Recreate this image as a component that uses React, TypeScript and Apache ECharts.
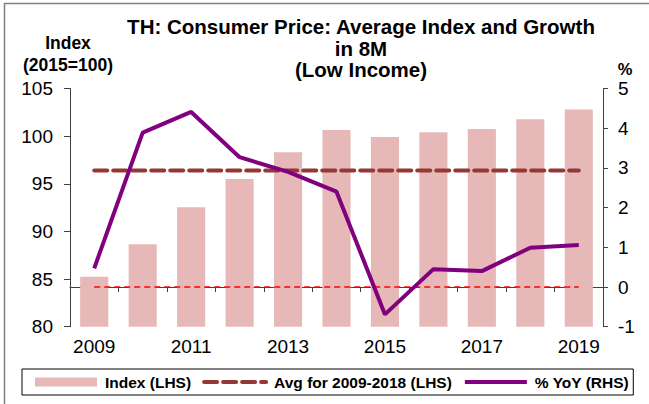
import React, { useEffect, useRef } from "react";
import * as echarts from "echarts";

const years = ["2009", "2010", "2011", "2012", "2013", "2014", "2015", "2016", "2017", "2018", "2019"];
const indexValues = [85.25, 88.65, 92.53, 95.5, 98.3, 100.64, 99.9, 100.4, 100.74, 101.76, 102.8];
const yoyValues = [0.47, 3.89, 4.41, 3.27, 2.9, 2.4, -0.69, 0.45, 0.4, 0.99, 1.06];
const avgValue = 96.4;
const zeroValue = 0;
const leftTicks = { min: 80, max: 105, interval: 5 };
const rightTicks = { min: -1, max: 5, interval: 1 };

export default function App() {
  const ref = useRef<HTMLDivElement>(null);
  useEffect(() => {
    if (!ref.current) return;
    const chart = echarts.init(ref.current, null, { renderer: "svg" });
    const font = "Arial, 'Liberation Sans', sans-serif";
    const axisColor = "#404040";
    const hidden = { color: "rgba(0,0,0,0)", borderColor: "rgba(0,0,0,0)", borderWidth: 0 };
    chart.setOption({
      animation: false,
      backgroundColor: "#ffffff",
      textStyle: { fontFamily: font },
      title: [
        {
          text: "TH: Consumer Price: Average Index and Growth\nin 8M\n(Low Income)",
          left: 356,
          top: 11,
          textAlign: "center",
          textStyle: { fontSize: 20.5, fontWeight: "bold", color: "#000", lineHeight: 21.5, fontFamily: font },
        },
        {
          text: "Index\n(2015=100)",
          left: 63,
          top: 27,
          textAlign: "center",
          textStyle: { fontSize: 17.5, fontWeight: "bold", color: "#000", lineHeight: 22, fontFamily: font },
        },
        {
          text: "%",
          left: 620,
          top: 58,
          textAlign: "center",
          textStyle: { fontSize: 16.5, fontWeight: "bold", color: "#000", lineHeight: 12, fontFamily: font },
        },
      ],
      graphic: [
        {
          type: "rect",
          silent: true,
          shape: { x: 4.5, y: 3.5, width: 700, height: 500 },
          style: { fill: "none", stroke: "#808080", lineWidth: 1.5 },
        },
      ],
      legend: {
        left: 22,
        top: 369,
        padding: [5, 4, 5, 13],
        itemGap: 11,
        itemWidth: 62,
        itemHeight: 9,
        borderColor: "#000",
        borderWidth: 1,
        lineStyle: { width: 4 },
        textStyle: { fontSize: 15.5, fontWeight: "bold", color: "#000", fontFamily: font, padding: [0, 0, 0, 3] },
        data: [
          { name: "Index (LHS)", icon: "rect" },
          { name: "Avg for 2009-2018 (LHS)", itemStyle: hidden },
          { name: "% YoY (RHS)", itemStyle: hidden },
        ],
      },
      grid: { left: 70, right: 46, top: 88.5, bottom: 77.3 },
      xAxis: {
        type: "category",
        data: years,
        boundaryGap: true,
        axisLine: { lineStyle: { color: axisColor, width: 1 } },
        axisTick: { show: true, interval: 0, length: 5, lineStyle: { color: axisColor } },
        axisLabel: { interval: 1, fontSize: 19, color: "#000", margin: 10, fontFamily: font },
      },
      yAxis: [
        {
          type: "value",
          min: leftTicks.min,
          max: leftTicks.max,
          interval: leftTicks.interval,
          splitLine: { show: false },
          axisLine: { show: true, lineStyle: { color: axisColor } },
          axisTick: { show: true, length: 6, lineStyle: { color: axisColor } },
          axisLabel: { fontSize: 19, color: "#000", margin: 17, lineHeight: 14, fontFamily: font },
        },
        {
          type: "value",
          position: "right",
          min: rightTicks.min,
          max: rightTicks.max,
          interval: rightTicks.interval,
          splitLine: { show: false },
          axisLine: { show: true, lineStyle: { color: axisColor } },
          axisTick: { show: true, length: 5, lineStyle: { color: axisColor } },
          axisLabel: { fontSize: 19, color: "#000", margin: 15, lineHeight: 14, fontFamily: font },
        },
      ],
      series: [
        {
          name: "Index (LHS)",
          type: "bar",
          yAxisIndex: 0,
          data: indexValues,
          barWidth: "58%",
          itemStyle: { color: "#e6b8b7" },
        },
        {
          name: "Avg for 2009-2018 (LHS)",
          type: "line",
          yAxisIndex: 0,
          data: years.map(() => avgValue),
          symbol: "none",
          lineStyle: { color: "#953735", width: 4, type: [13, 6], cap: "round" },
          itemStyle: { color: "#953735" },
        },
        {
          name: "zero",
          type: "line",
          yAxisIndex: 1,
          data: years.map(() => zeroValue),
          symbol: "none",
          lineStyle: { color: "#ff0000", width: 1.5, type: [6, 4] },
          itemStyle: { color: "#ff0000" },
        },
        {
          name: "% YoY (RHS)",
          type: "line",
          yAxisIndex: 1,
          data: yoyValues,
          symbol: "none",
          lineStyle: { color: "#800080", width: 4 },
          itemStyle: { color: "#800080" },
        },
      ],
    });
    return () => chart.dispose();
  }, []);
  return (
    <div
      ref={ref}
      style={{ position: "fixed", left: 0, top: 0, width: 649, height: 404, background: "#fff" }}
    />
  );
}
